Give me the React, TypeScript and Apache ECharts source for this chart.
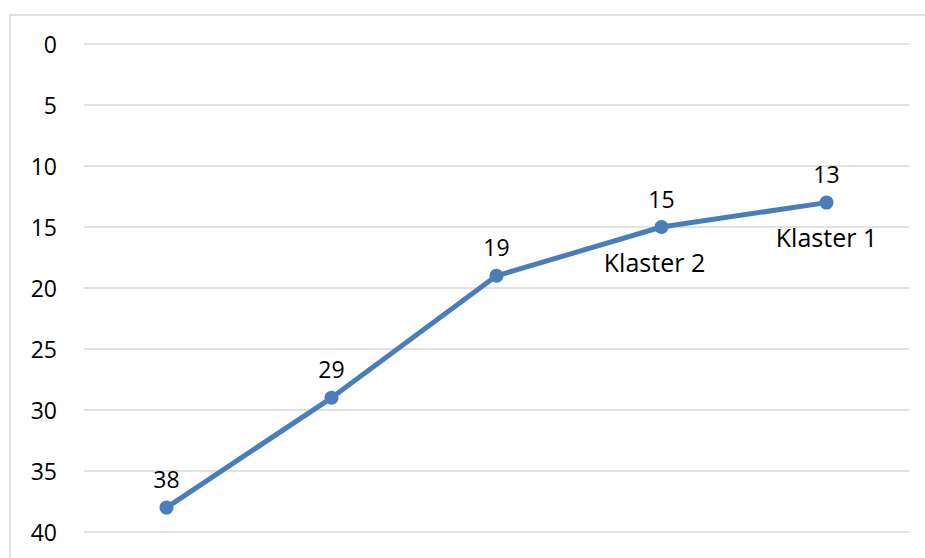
import React, { useEffect, useRef } from "react";
import * as echarts from "echarts";

const categories = ["A", "B", "C", "D", "E"];
const values = [38, 29, 19, 15, 13];
const clusterNames = ["", "", "", "Klaster 2", "Klaster 1"];
const yTicks = { min: 0, max: 40, interval: 5 };

export default function App() {
  const ref = useRef<HTMLDivElement>(null);
  useEffect(() => {
    const chart = echarts.init(ref.current!, null, { renderer: "svg" });
    const font = "'Open Sans', 'Noto Sans', sans-serif";
    chart.setOption({
      animation: false,
      backgroundColor: "#fff",
      graphic: [
        {
          type: "rect",
          shape: { x: 10, y: 15, width: 940, height: 580 },
          style: { fill: "none", stroke: "#d9d9d9", lineWidth: 1.5 },
          silent: true,
        },
      ],
      grid: { left: 84, right: 16, top: 44, bottom: 26 },
      xAxis: {
        type: "category",
        data: categories,
        boundaryGap: true,
        axisLine: { show: false },
        axisTick: { show: false },
        axisLabel: { show: false },
      },
      yAxis: {
        type: "value",
        inverse: true,
        min: yTicks.min,
        max: yTicks.max,
        interval: yTicks.interval,
        axisLine: { show: false },
        axisTick: { show: false },
        axisLabel: { color: "#000", fontSize: 23, fontFamily: font, margin: 27 },
        splitLine: { lineStyle: { color: "#d9d9d9", width: 1.5 } },
      },
      series: [
        {
          type: "line",
          data: values,
          symbol: "circle",
          symbolSize: 14,
          lineStyle: { color: "#4a7ebb", width: 5 },
          itemStyle: { color: "#4a7ebb" },
          label: {
            show: true,
            position: "top",
            distance: 10,
            color: "#000",
            fontSize: 23,
            fontFamily: font,
          },
          z: 3,
        },
        {
          type: "scatter",
          data: values.map((v, i) => ({
            value: v,
            label: i === 3 ? { offset: [-7, 0] } : {},
          })),
          symbol: "circle",
          symbolSize: 14,
          itemStyle: { color: "#4a7ebb", opacity: 0 },
          label: {
            show: true,
            position: "bottom",
            distance: 15,
            color: "#000",
            opacity: 1,
            fontSize: 25,
            fontFamily: font,
            formatter: (p: any) => clusterNames[p.dataIndex],
          },
          z: 2,
        },
      ],
    });
    return () => chart.dispose();
  }, []);
  return (
    <div
      ref={ref}
      style={{ position: "fixed", left: 0, top: 0, width: 925, height: 558 }}
    />
  );
}
